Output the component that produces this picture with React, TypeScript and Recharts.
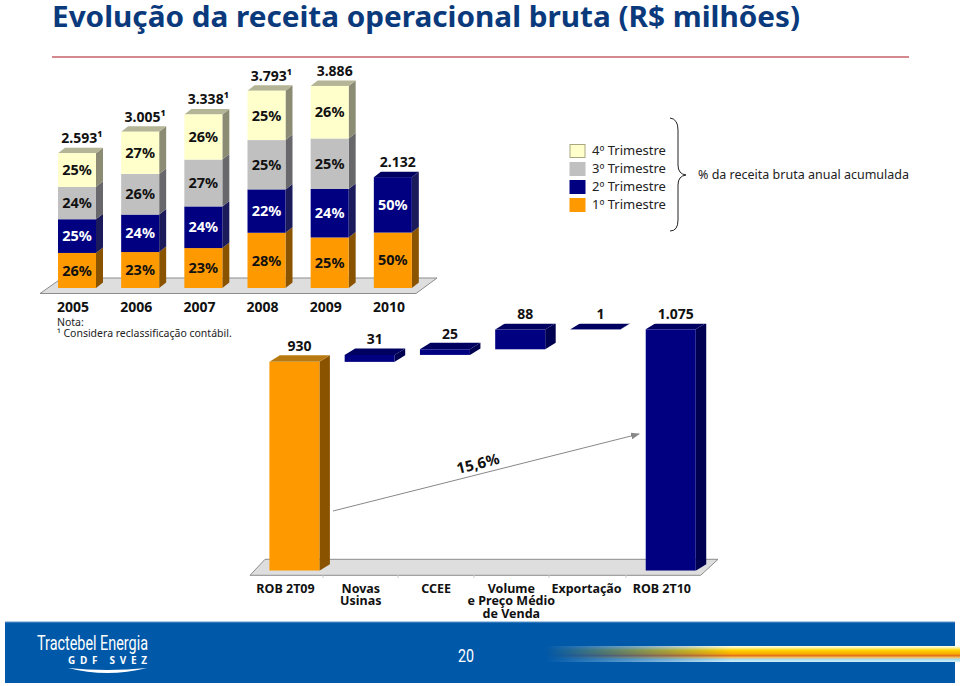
import { BarChart, Bar, XAxis, YAxis, LabelList } from 'recharts';

const years = ['2005', '2006', '2007', '2008', '2009', '2010'];
const totals = [2593, 3005, 3338, 3793, 3886, 2132];
const totalLabels = ['2.593¹', '3.005¹', '3.338¹', '3.793¹', '3.886', '2.132'];
const q1Share = [26, 23, 23, 28, 25, 50];
const q2Share = [25, 24, 24, 22, 24, 50];
const q3Share = [24, 26, 27, 25, 25, null];
const q4Share = [25, 27, 26, 25, 26, null];

const steps = ['ROB 2T09', 'Novas\nUsinas', 'CCEE', 'Volume\ne Preço Médio\nde Venda', 'Exportação', 'ROB 2T10'];
const stepStart = [0, 930, 961, 986, 1074, 0];
const stepDelta = [930, 31, 25, 88, 1, 1075];
const stepLabels = ['930', '31', '25', '88', '1', '1.075'];

const legendNames = ['4º Trimestre', '3º Trimestre', '2º Trimestre', '1º Trimestre'];

const COLORS = {
  q1: { front: '#ff9900', side: '#8a5300', top: '#b87a10' },
  q2: { front: '#000080', side: '#1b1b5c', top: '#000060' },
  q3: { front: '#c0c0c0', side: '#68686c', top: '#8a8a8a' },
  q4: { front: '#ffffcc', side: '#8c8c74', top: '#b4b496' },
};
const LEGEND_FILLS = [COLORS.q4.front, COLORS.q3.front, COLORS.q2.front, COLORS.q1.front];

const FONT = '"Noto Sans", Tahoma, sans-serif';

const yearRows = years.map((year, i) => ({
  year,
  q1: (totals[i] * q1Share[i]) / 100,
  q2: (totals[i] * q2Share[i]) / 100,
  q3: q3Share[i] ? (totals[i] * q3Share[i]) / 100 : 0,
  q4: q4Share[i] ? (totals[i] * q4Share[i]) / 100 : 0,
  q1Pct: q1Share[i],
  q2Pct: q2Share[i],
  q3Pct: q3Share[i],
  q4Pct: q4Share[i],
  // the total sits on whichever segment is the top of the stack
  q2Total: q4Share[i] ? null : totalLabels[i],
  q4Total: q4Share[i] ? totalLabels[i] : null,
}));

const stepRows = steps.map((step, i) => ({
  step,
  base: stepStart[i],
  delta: stepDelta[i],
  label: stepLabels[i],
}));

function Box3D(props: any) {
  const { x, y, width: w, height: h, palette, dx, dy, showTop } = props;
  if (!h || h <= 0) return null;
  return (
    <g>
      <polygon
        points={`${x + w},${y} ${x + w + dx},${y - dy} ${x + w + dx},${y + h - dy} ${x + w},${y + h}`}
        fill={palette.side}
      />
      {showTop && (
        <polygon
          points={`${x},${y} ${x + dx},${y - dy} ${x + w + dx},${y - dy} ${x + w},${y}`}
          fill={palette.top}
        />
      )}
      <rect x={x} y={y} width={w} height={h} fill={palette.front} />
    </g>
  );
}

const quarterShape = (key: 'q1' | 'q2' | 'q3' | 'q4') => (p: any) => {
  const showTop = key === 'q4' || (key === 'q2' && !p.payload.q4);
  return <Box3D {...p} palette={COLORS[key]} dx={7} dy={5.5} showTop={showTop} />;
};

const stepShape = (p: any) => {
  const isStart = p.payload.step === 'ROB 2T09';
  return <Box3D {...p} palette={isStart ? COLORS.q1 : { ...COLORS.q2, side: '#000050' }} dx={10.5} dy={6.5} showTop />;
};

const pctText = (v: any) => (v == null ? '' : `${v}%`);

const topLabel = (shift: number, rise: number) => (p: any) => {
  if (p.value == null) return null;
  const vb = p.viewBox;
  return (
    <text
      x={vb.x + vb.width / 2 + shift}
      y={vb.y - rise}
      textAnchor="middle"
      fontFamily={FONT}
      fontWeight={700}
      fontSize={14}
      fill="#111"
    >
      {p.value}
    </text>
  );
};

function YearTick({ x, y, payload }: any) {
  return (
    <text x={x - 3.5} y={y + 16} textAnchor="middle" fontFamily={FONT} fontWeight={700} fontSize={14} fill="#111">
      {payload.value}
    </text>
  );
}

function StepTick({ x, y, payload }: any) {
  const lines = String(payload.value).split('\n');
  return (
    <text textAnchor="middle" fontFamily={FONT} fontWeight={700} fontSize={12.5} fill="#111">
      {lines.map((line, i) => (
        <tspan key={line} x={x - 8.5} y={y + 14 + i * 12.7}>
          {line}
        </tspan>
      ))}
    </text>
  );
}

function Backdrop() {
  return (
    <svg width={960} height={686} style={{ position: 'absolute', left: 0, top: 0 }}>
      <defs>
        <linearGradient id="stripe" x1="0" y1="0" x2="0" y2="1">
          <stop offset="0" stopColor="#ffffff" />
          <stop offset="0.1" stopColor="#fff4a0" />
          <stop offset="0.28" stopColor="#ffd000" />
          <stop offset="0.5" stopColor="#f8a800" />
          <stop offset="0.6" stopColor="#e2701c" />
          <stop offset="0.72" stopColor="#f0c060" />
          <stop offset="0.84" stopColor="#a8dcf0" />
          <stop offset="1" stopColor="#d8f0f8" />
        </linearGradient>
        <linearGradient id="fade" x1="0" y1="0" x2="1" y2="0">
          <stop offset="0" stopColor="#000" />
          <stop offset="0.45" stopColor="#fff" />
        </linearGradient>
        <mask id="stripeMask" maskUnits="userSpaceOnUse" x={545} y={640} width={415} height={30}>
          <rect x={545} y={640} width={415} height={30} fill="url(#fade)" />
        </mask>
      </defs>

      <text
        x={52}
        y={27}
        fontFamily={FONT}
        fontWeight={700}
        fontSize={29}
        fill="#0a3a7c"
        textLength={748}
        lengthAdjust="spacingAndGlyphs"
      >
        Evolução da receita operacional bruta (R$ milhões)
      </text>
      <line x1={52} y1={57} x2={909} y2={57} stroke="#c8606a" strokeWidth={1.5} />

      {/* floors under the two charts */}
      <polygon points="40,293.5 62,278 437,278 416,293.5" fill="#dedede" stroke="#8c8c8c" />
      <polygon points="250,575.3 265,559.3 718,559.3 700.7,575.3" fill="#dedede" stroke="#8c8c8c" />
      <path d="M323,575 v3 M398,575 v3 M474,575 v3 M549,575 v3 M626,575 v3" stroke="#c8c8c8" />

      {legendNames.map((name, i) => (
        <g key={name}>
          <rect
            x={570}
            y={144.5 + i * 18}
            width={15}
            height={13}
            fill={LEGEND_FILLS[i]}
            stroke={i === 0 ? '#a8a880' : LEGEND_FILLS[i]}
          />
          <text x={592} y={155 + i * 18} fontFamily={FONT} fontSize={13} fill="#222">
            {name}
          </text>
        </g>
      ))}
      <path
        d="M670,118 Q678,119 678,130 L678,165 Q678,174 686,175 Q678,176 678,185 L678,220 Q678,231 670,231"
        fill="none"
        stroke="#222"
      />
      <text x={698} y={179} fontFamily={FONT} fontSize={12.5} fill="#222">
        % da receita bruta anual acumulada
      </text>

      <text x={57} y={325.5} fontFamily={FONT} fontSize={10.5} fill="#222">
        Nota:
      </text>
      <text x={57} y={337} fontFamily={FONT} fontSize={10.5} fill="#222">
        ¹ Considera reclassificação contábil.
      </text>

      {/* footer band */}
      <rect x={5} y={622} width={950} height={61} fill="#0058a8" />
      <line x1={5} y1={622} x2={955} y2={622} stroke="#5a96cc" />
      <rect x={545} y={646} width={415} height={16} fill="url(#stripe)" mask="url(#stripeMask)" />
      <text
        x={37}
        y={650}
        fontFamily="Roboto, sans-serif"
        fontSize={21}
        fill="#fff"
        textLength={111}
        lengthAdjust="spacingAndGlyphs"
      >
        Tractebel Energia
      </text>
      <text
        x={68}
        y={664}
        fontFamily={FONT}
        fontWeight={700}
        fontSize={10}
        fill="#fff"
        textLength={79}
        lengthAdjust="spacing"
      >
        GDF SVEZ
      </text>
      <path d="M68,668 Q107,672 147,668 Q107,678 68,668 Z" fill="#fff" />
      <text
        x={458}
        y={662}
        fontFamily="Roboto, sans-serif"
        fontSize={18}
        fill="#fff"
        textLength={16}
        lengthAdjust="spacingAndGlyphs"
      >
        20
      </text>
    </svg>
  );
}

function Overlay() {
  return (
    <svg width={960} height={686} style={{ position: 'absolute', left: 0, top: 0 }}>
      <defs>
        <marker id="arrowHead" markerWidth="9" markerHeight="7" refX="8" refY="3.5" orient="auto" markerUnits="userSpaceOnUse">
          <polygon points="0,0 9,3.5 0,7" fill="#888" />
        </marker>
      </defs>
      <line x1={333} y1={511} x2={639} y2={434} stroke="#888" strokeWidth={1} markerEnd="url(#arrowHead)" />
      <text
        x={478}
        y={469}
        textAnchor="middle"
        fontFamily={FONT}
        fontWeight={700}
        fontSize={15}
        fill="#111"
        transform="rotate(-14 478 464)"
      >
        15,6%
      </text>
    </svg>
  );
}

export default function App() {
  return (
    <div style={{ position: 'absolute', left: 0, top: 0, width: 960, height: 686, background: '#fff', overflow: 'hidden' }}>
      <Backdrop />

      <div style={{ position: 'absolute', left: 0, top: 0 }}>
        <BarChart
          width={960}
          height={686}
          data={yearRows}
          margin={{ left: 45, right: 536, top: 54, bottom: 368 }}
          barSize={38}
          style={{ background: 'transparent' }}
        >
          <XAxis dataKey="year" height={30} axisLine={false} tickLine={false} tick={<YearTick />} interval={0} />
          <YAxis hide domain={[0, 4500]} allowDataOverflow />
          <Bar dataKey="q1" stackId="a" isAnimationActive={false} shape={quarterShape('q1')}>
            <LabelList dataKey="q1Pct" position="center" formatter={pctText} fill="#111" fontFamily={FONT} fontWeight={700} fontSize={14.5} />
          </Bar>
          <Bar dataKey="q2" stackId="a" isAnimationActive={false} shape={quarterShape('q2')}>
            <LabelList dataKey="q2Pct" position="center" formatter={pctText} fill="#fff" fontFamily={FONT} fontWeight={700} fontSize={14.5} />
            <LabelList dataKey="q2Total" content={topLabel(5, 10)} />
          </Bar>
          <Bar dataKey="q3" stackId="a" isAnimationActive={false} shape={quarterShape('q3')}>
            <LabelList dataKey="q3Pct" position="center" formatter={pctText} fill="#111" fontFamily={FONT} fontWeight={700} fontSize={14.5} />
          </Bar>
          <Bar dataKey="q4" stackId="a" isAnimationActive={false} shape={quarterShape('q4')}>
            <LabelList dataKey="q4Pct" position="center" formatter={pctText} fill="#111" fontFamily={FONT} fontWeight={700} fontSize={14.5} />
            <LabelList dataKey="q4Total" content={topLabel(5, 10)} />
          </Bar>
        </BarChart>
      </div>

      <div style={{ position: 'absolute', left: 0, top: 0 }}>
        <BarChart
          width={960}
          height={686}
          data={stepRows}
          margin={{ left: 256.4, right: 252, top: 323.7, bottom: 65.3 }}
          barSize={50}
          style={{ background: 'transparent' }}
        >
          <XAxis dataKey="step" height={50} axisLine={false} tickLine={false} tick={<StepTick />} interval={0} />
          <YAxis hide domain={[0, 1100]} allowDataOverflow />
          <Bar dataKey="base" stackId="w" isAnimationActive={false} fill="none" />
          <Bar dataKey="delta" stackId="w" isAnimationActive={false} shape={stepShape}>
            <LabelList dataKey="label" content={topLabel(5, 10.5)} />
          </Bar>
        </BarChart>
      </div>

      <Overlay />
    </div>
  );
}
